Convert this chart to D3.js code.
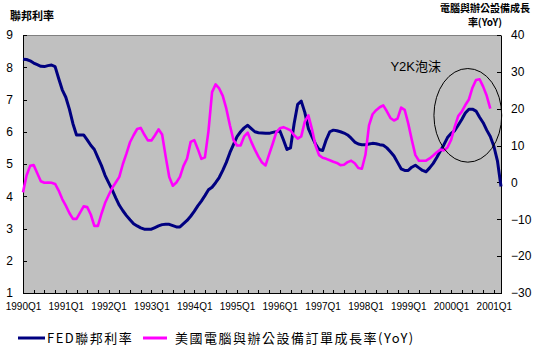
<!DOCTYPE html>
<html>
<head>
<meta charset="utf-8">
<script src="https://cdn.jsdelivr.net/npm/d3@7/dist/d3.min.js"></script>
<style>
  html, body { margin: 0; padding: 0; background: #fff; }
  svg { display: block; }
  text { font-family: "Liberation Sans", Arial, "Noto Sans CJK TC", sans-serif; fill: #000; }
  .cjk { font-family: "Noto Sans CJK TC", "Noto Sans CJK SC", sans-serif; }
</style>
</head>
<body>
<svg id="chart" width="536" height="348"></svg>
<script>
// Monthly observations, January 1990 onward
const fedRate = [
  8.25, 8.24, 8.20, 8.13, 8.08, 8.03, 8.02, 8.05, 8.07, 8.02, 7.65, 7.30,
  7.07, 6.70, 6.25, 5.90, 5.90, 5.90, 5.75, 5.58, 5.45, 5.20, 4.95, 4.65,
  4.42, 4.20, 3.95, 3.72, 3.55, 3.40, 3.27, 3.15, 3.08, 3.02, 2.98, 2.98,
  2.98, 3.03, 3.08, 3.12, 3.13, 3.13, 3.09, 3.05, 3.05, 3.15, 3.25, 3.38,
  3.53, 3.70, 3.85, 4.02, 4.20, 4.28, 4.42, 4.58, 4.80, 5.05, 5.35, 5.60,
  5.85, 6.00, 6.12, 6.20, 6.10, 6.00, 5.97, 5.96, 5.95, 5.95, 5.98, 6.00,
  6.03, 5.75, 5.45, 5.50, 6.25, 6.85, 6.95, 6.60, 6.10, 5.85, 5.62, 5.45,
  5.42, 5.75, 6.00, 6.05, 6.03, 6.00, 5.96, 5.90, 5.80, 5.68, 5.62, 5.60,
  5.60, 5.62, 5.64, 5.63, 5.60, 5.58, 5.50, 5.38, 5.25, 5.05, 4.85, 4.80,
  4.80, 4.90, 4.96, 4.88, 4.80, 4.76, 4.88, 5.02, 5.20, 5.40, 5.60, 5.82,
  5.95, 6.03, 6.20, 6.38, 6.58, 6.70, 6.70, 6.64, 6.45, 6.28, 6.05, 5.85,
  5.55, 5.10, 4.30
];

const orderGrowth = [
  -2.7, 1.9, 4.5, 4.7, 2.5, 0.3, -0.1, 0.0, -0.1, -0.4, -2.2, -4.5,
  -6.3, -8.3, -9.9, -9.9, -8.2, -6.5, -6.7, -8.7, -11.8, -11.8, -8.5, -5.6,
  -3.5, -1.5, 0.0, 1.5, 5.0, 7.8, 10.9, 12.8, 14.5, 14.8, 13.0, 11.4,
  11.4, 12.8, 14.4, 13.0, 7.0, 1.5, -0.9, 0.0, 1.5, 4.5, 6.5, 11.0,
  11.5, 9.1, 6.4, 6.8, 14.0, 24.5, 26.6, 25.5, 23.5, 20.0, 15.5, 11.5,
  10.0, 10.0, 12.5, 13.5, 11.0, 8.9, 7.0, 5.4, 4.6, 7.6, 10.5, 13.6,
  14.7, 15.0, 14.6, 14.1, 12.8, 11.9, 12.5, 16.5, 18.2, 14.5, 10.0, 7.4,
  6.7, 6.4, 6.0, 5.6, 5.3, 4.7, 4.8, 5.5, 5.9, 5.2, 3.9, 3.7,
  7.5, 15.5, 18.5, 19.6, 20.4, 20.9, 19.3, 17.5, 16.8, 17.3, 20.3, 19.7,
  16.0, 11.5, 7.4, 5.9, 5.9, 5.9, 6.5, 7.3, 8.2, 8.9, 8.7, 9.5,
  11.5, 15.0, 18.0, 19.2, 21.0, 22.5, 25.7, 27.8, 28.0, 26.0, 23.5, 20.0
];

const yearLabels = ["1990Q1", "1991Q1", "1992Q1", "1993Q1", "1994Q1", "1995Q1",
  "1996Q1", "1997Q1", "1998Q1", "1999Q1", "2000Q1", "2001Q1"];
const leftTicks = [1, 2, 3, 4, 5, 6, 7, 8, 9];
const rightTicks = [-30, -20, -10, 0, 10, 20, 30, 40];

// Bubble annotation (month index / right-axis value)
const bubble = { label: "Y2K泡沫", cx: 124.7, cy: 18.2, rx: 9.5, ry: 12.7, tx: 103, ty: 30.2 };

const months = d3.range(fedRate.length);

const svg = d3.select("#chart");
const plot = { left: 23, right: 501, top: 35, bottom: 293 };

const x = d3.scaleLinear().domain([0, months.length - 1]).range([plot.left, plot.right]);
const yL = d3.scaleLinear().domain([1, 9]).range([plot.bottom, plot.top]);
const yR = d3.scaleLinear().domain([-30, 40]).range([plot.bottom, plot.top]);

// plot area
svg.append("rect")
  .attr("x", plot.left).attr("y", plot.top)
  .attr("width", plot.right - plot.left).attr("height", plot.bottom - plot.top)
  .attr("fill", "#c0c0c0").attr("stroke", "#808080").attr("stroke-width", 1)
  .attr("shape-rendering", "crispEdges");

// axes
const axL = svg.append("g").attr("transform", `translate(${plot.left},0)`)
  .call(d3.axisLeft(yL).tickValues(leftTicks).tickFormat(d3.format("d"))
    .tickSizeInner(-4).tickSizeOuter(0).tickPadding(10));
const axR = svg.append("g").attr("transform", `translate(${plot.right},0)`)
  .call(d3.axisRight(yR).tickValues(rightTicks).tickFormat(d3.format("d"))
    .tickSizeInner(-4).tickSizeOuter(0).tickPadding(10));
const axB = svg.append("g").attr("transform", `translate(0,${plot.bottom})`)
  .call(d3.axisBottom(x).tickValues(months.filter(i => i % 3 === 0))
    .tickFormat(i => i % 12 === 0 ? yearLabels[i / 12] : "")
    .tickSizeInner(-3).tickSizeOuter(0).tickPadding(10));

[axL, axR].forEach(g => g.selectAll("text").attr("font-size", 12)
  .attr("font-family", "'Liberation Sans', Arial, sans-serif"));
axB.selectAll("text").attr("font-size", 10)
  .attr("font-family", "'Liberation Sans', Arial, sans-serif");
[axL, axR, axB].forEach(g => {
  g.selectAll("path,line").attr("stroke", "#000").attr("shape-rendering", "crispEdges");
});

// series
const fedLine = d3.line().x((d, i) => x(i)).y(d => yL(d));
const growthLine = d3.line().x((d, i) => x(i)).y(d => yR(d));

svg.append("path").datum(fedRate)
  .attr("d", fedLine).attr("fill", "none")
  .attr("stroke", "#000080").attr("stroke-width", 3).attr("stroke-linejoin", "round");
svg.append("path").datum(orderGrowth)
  .attr("d", growthLine).attr("fill", "none")
  .attr("stroke", "#ff00ff").attr("stroke-width", 2.6).attr("stroke-linejoin", "round");

// bubble annotation
svg.append("ellipse")
  .attr("cx", x(bubble.cx)).attr("cy", yR(bubble.cy))
  .attr("rx", x(bubble.cx + bubble.rx) - x(bubble.cx))
  .attr("ry", yR(bubble.cy - bubble.ry) - yR(bubble.cy))
  .attr("fill", "none").attr("stroke", "#000").attr("stroke-width", 1);
svg.append("text").attr("x", x(bubble.tx)).attr("y", yR(bubble.ty))
  .attr("font-size", 13).text(bubble.label);

// axis titles
svg.append("text").attr("class", "cjk").attr("x", 10).attr("y", 20)
  .attr("font-size", 11).attr("font-weight", "bold").text("聯邦利率");
svg.append("text").attr("class", "cjk").attr("text-anchor", "middle")
  .attr("x", 485).attr("y", 11.5).attr("font-size", 10).attr("font-weight", "bold")
  .text("電腦與辦公設備成長");
svg.append("text").attr("class", "cjk").attr("text-anchor", "middle")
  .attr("x", 485).attr("y", 26).attr("font-size", 10).attr("font-weight", "bold")
  .text("率(YoY)");

// legend
const legend = [
  { name: "FED聯邦利率", color: "#000080", x1: 18, x2: 45, tx: 47 },
  { name: "美國電腦與辦公設備訂單成長率(YoY)", color: "#ff00ff", x1: 143, x2: 167, tx: 175 }
];
const lg = svg.append("g");
legend.forEach(d => {
  lg.append("line").attr("x1", d.x1).attr("x2", d.x2).attr("y1", 338).attr("y2", 338)
    .attr("stroke", d.color).attr("stroke-width", 3);
  lg.append("text").attr("class", "cjk").attr("x", d.tx).attr("y", 343)
    .attr("font-size", 13).attr("letter-spacing", 1.5).text(d.name);
});
</script>
</body>
</html>
